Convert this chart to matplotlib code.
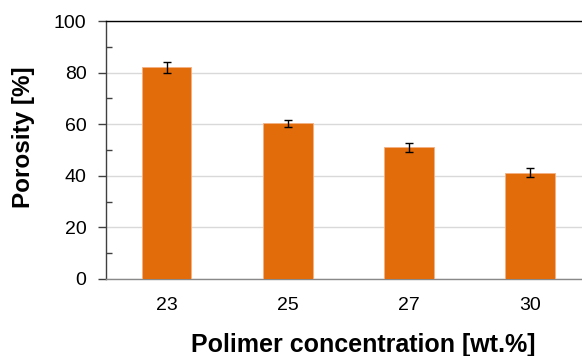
import numpy as np
import matplotlib.pyplot as plt
from matplotlib.ticker import MultipleLocator

plt.rcParams['font.family'] = ['Liberation Sans', 'DejaVu Sans']

concentration = ['23', '25', '27', '30']
porosity = [82.0, 60.3, 51.0, 41.2]
porosity_err = [2.0, 1.5, 1.8, 1.7]

fig = plt.figure(figsize=(5.82, 3.56), dpi=100)
ax = fig.add_axes([0.1821, 0.2163, 0.8333, 0.7247])

x = np.arange(len(concentration))
ax.bar(x, porosity, width=0.41, color='#E36C0A', edgecolor='#F4B183', linewidth=0.6,
       yerr=porosity_err, error_kw=dict(ecolor='black', elinewidth=1.0, capsize=3, capthick=1.0),
       zorder=3)

ax.set_xlim(-0.5, len(concentration) - 0.5)
ax.set_ylim(0, 100)
ax.set_xticks(x)
ax.set_xticklabels(concentration)
ax.yaxis.set_major_locator(MultipleLocator(20))
ax.yaxis.set_minor_locator(MultipleLocator(10))
ax.grid(axis='y', which='major', color='#D9D9D9', linewidth=1.0, zorder=0)

ax.tick_params(axis='x', length=0, pad=13, labelsize=14)
ax.tick_params(axis='y', which='major', direction='out', length=6, width=1, color='#404040',
               pad=8, labelsize=14)
ax.tick_params(axis='y', which='minor', direction='in', length=4, width=1, color='#404040')

ax.spines['left'].set_color('#404040')
ax.spines['bottom'].set_color('#898989')
ax.spines['top'].set_color('black')
ax.spines['right'].set_visible(False)
for s in ax.spines.values():
    s.set_linewidth(1.0)

ax.set_ylabel('Porosity [%]', fontsize=17.5, fontweight='bold', va='center')
ax.yaxis.set_label_coords(-0.17, 0.548)
ax.set_xlabel('Polimer concentration [wt.%]', fontsize=18, fontweight='bold', va='center')
ax.xaxis.set_label_coords(0.53, -0.255)

fig.savefig('out.png', dpi=100)
